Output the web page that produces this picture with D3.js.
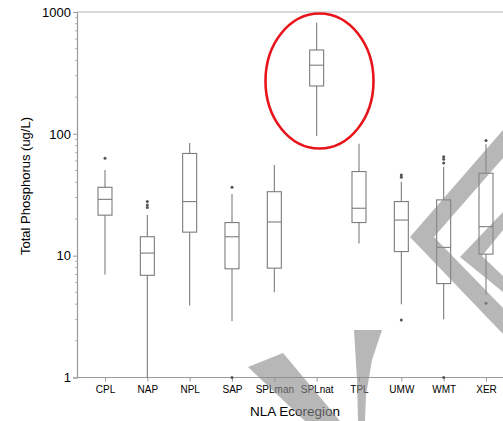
<!DOCTYPE html>
<html>
<head>
<meta charset="utf-8">
<script src="https://cdn.jsdelivr.net/npm/d3@7"></script>
<style>
  html, body { margin: 0; padding: 0; background: #fff; }
  svg { display: block; }
  text { font-family: "Liberation Sans", Arial, Helvetica, sans-serif; }
</style>
</head>
<body>
<svg id="chart" width="503" height="421"></svg>
<script>
// ---- data ----
const categories = ["CPL", "NAP", "NPL", "SAP", "SPLman", "SPLnat", "TPL", "UMW", "WMT", "XER"];
const whiskerLow  = [7.0, 1.0, 3.9, 2.9, 5.0, 96, 12.6, 4.0, 3.0, 4.8];
const q1          = [21.5, 6.9, 15.6, 7.8, 7.9, 247, 18.7, 10.8, 5.9, 10.3];
const medians     = [29, 10.5, 27.8, 14.3, 18.9, 366, 24.5, 19.6, 11.7, 17.3];
const q3          = [36.4, 14.3, 69, 18.7, 33.5, 488, 49, 27.8, 28.7, 47.5];
const whiskerHigh = [50.5, 21.6, 84, 32, 55.6, 818, 83, 40.5, 53.8, 82];
const outliers    = [[63], [24.8, 26.1, 27.8], [], [36.4, 1.0], [], [], [], [2.97, 44, 46], [1.0, 57.5, 62, 65], [4.06, 88]];
const yTickValues = [1, 10, 100, 1000];
const yTickLabels = ["1", "10", "100", "1000"];
const xTitle = "NLA Ecoregion";
const yTitle = "Total Phosphorus (ug/L)";

(function () {
const svg = d3.select("#chart");
const W = 503, H = 421;
const mLeft = 77, mTop = 12, mBottom = 377.5;

const y = d3.scaleLog().domain([1, 1000]).range([mBottom, mTop]);
const x = d3.scalePoint().domain(categories).range([105, 486]);

// frame top line
svg.append("line").attr("x1", mLeft).attr("x2", W).attr("y1", mTop).attr("y2", mTop)
  .attr("stroke", "#b5b5b5").attr("stroke-width", 1.2);

// y axis
const yAxis = d3.axisLeft(y).tickValues(yTickValues)
  .tickFormat((d, i) => yTickLabels[i]).tickSize(4).tickPadding(2);
const gy = svg.append("g").attr("transform", `translate(${mLeft},0)`).call(yAxis);
gy.select(".domain").attr("stroke", "#9a9a9a").attr("stroke-width", 1.2);
gy.selectAll(".tick line").attr("stroke", "#9a9a9a");
gy.selectAll(".tick text").attr("font-size", 13).attr("fill", "#000")
  .attr("font-family", "'Liberation Sans', Arial, sans-serif");

// minor ticks
const minor = [];
for (let dec = 1; dec < 1000; dec *= 10) for (let k = 2; k <= 9; k++) minor.push(dec * k);
svg.append("g").selectAll("line").data(minor).join("line")
  .attr("x1", mLeft - 2).attr("x2", mLeft).attr("y1", d => y(d)).attr("y2", d => y(d))
  .attr("stroke", "#b0b0b0").attr("stroke-width", 1);

// x axis
const xAxis = d3.axisBottom(x).tickSize(4).tickPadding(4);
const gx = svg.append("g").attr("transform", `translate(0,${mBottom})`).call(xAxis);
gx.select(".domain").remove();
svg.append("line").attr("x1", mLeft).attr("x2", W).attr("y1", mBottom).attr("y2", mBottom)
  .attr("stroke", "#9a9a9a").attr("stroke-width", 1.2);
gx.selectAll(".tick line").attr("stroke", "#9a9a9a");
gx.selectAll(".tick text").attr("font-size", 10).attr("fill", "#000")
  .attr("font-family", "'Liberation Sans', Arial, sans-serif");

// titles
svg.append("text").attr("x", 295).attr("y", 416).attr("text-anchor", "middle")
  .attr("font-size", 13.5).attr("fill", "#000").text(xTitle);
svg.append("text").attr("transform", "translate(30,186) rotate(-90)").attr("text-anchor", "middle")
  .attr("font-size", 13).attr("fill", "#000").text(yTitle);

// boxes
const bw = 14;
const stroke = "#7c7c7c";
const g = svg.append("g");
categories.forEach((c, i) => {
  const cx = x(c);
  const gb = g.append("g");
  gb.append("line").attr("x1", cx).attr("x2", cx).attr("y1", y(whiskerHigh[i])).attr("y2", y(q3[i]))
    .attr("stroke", stroke).attr("stroke-width", 1.1);
  gb.append("line").attr("x1", cx).attr("x2", cx).attr("y1", y(q1[i])).attr("y2", y(whiskerLow[i]))
    .attr("stroke", stroke).attr("stroke-width", 1.1);
  gb.append("rect").attr("x", cx - bw / 2).attr("width", bw)
    .attr("y", y(q3[i])).attr("height", y(q1[i]) - y(q3[i]))
    .attr("fill", "none").attr("stroke", stroke).attr("stroke-width", 1.1);
  gb.append("line").attr("x1", cx - bw / 2).attr("x2", cx + bw / 2)
    .attr("y1", y(medians[i])).attr("y2", y(medians[i]))
    .attr("stroke", stroke).attr("stroke-width", 1.1);
  gb.selectAll("circle").data(outliers[i]).join("circle")
    .attr("cx", cx).attr("cy", d => y(d)).attr("r", 1.5).attr("fill", "#555");
});

// red annotation ellipse
svg.append("ellipse").attr("cx", 319.5).attr("cy", 81).attr("rx", 54).attr("ry", 67.5)
  .attr("fill", "none").attr("stroke", "#e8141b").attr("stroke-width", 2.6);

// gray watermark shapes (decorative)
const wm = svg.append("g").attr("fill", "#8a8a8a").attr("fill-opacity", 0.62);
const shapes = [
  [[248,367],[283,353],[340,421],[305,421]],
  [[354,330],[382,330],[372,360],[366,395],[365,421],[358,421],[357,380]],
  [[410,237],[503,130],[503,158],[434,237],[503,308],[503,334]],
  [[460,257],[503,212],[503,230],[482,256],[503,276],[503,292]]
];
shapes.forEach(p => wm.append("path").attr("d", "M" + p.map(q => q.join(",")).join("L") + "Z"));
})();
</script>
</body>
</html>
